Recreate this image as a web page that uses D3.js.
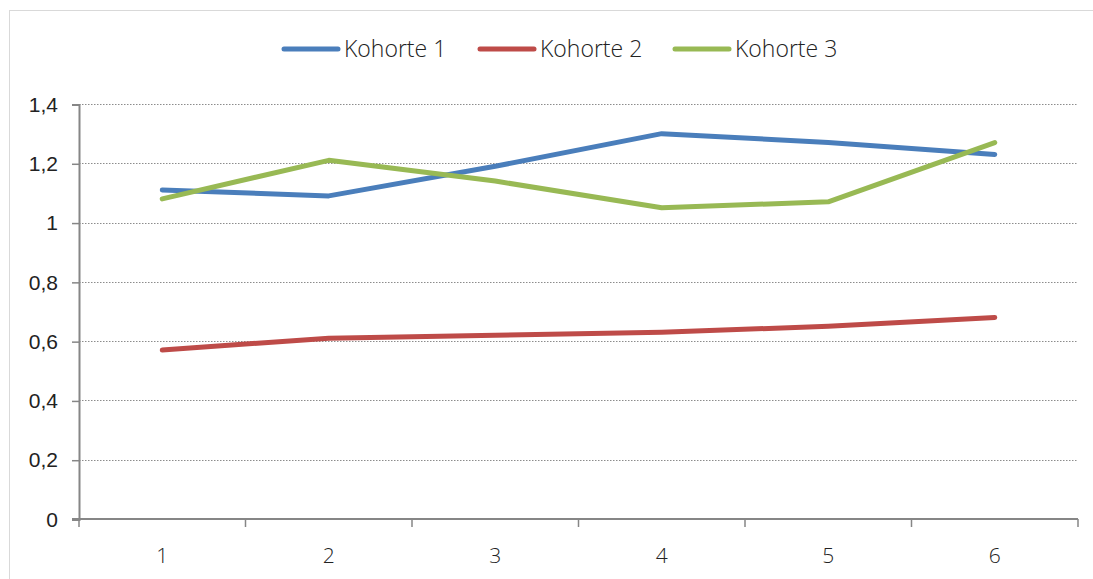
<!DOCTYPE html>
<html>
<head>
<meta charset="utf-8">
<script src="https://cdn.jsdelivr.net/npm/d3@7"></script>
<style>
  html, body { margin: 0; padding: 0; background: #fff; }
  svg { display: block; font-family: "Open Sans", "Noto Sans", sans-serif; }
</style>
</head>
<body>
<svg id="chart" width="1093" height="579"></svg>
<script>
// Kohorten-Verlauf über sechs Messzeitpunkte
const categories = ["1", "2", "3", "4", "5", "6"];
const seriesNames = ["Kohorte 1", "Kohorte 2", "Kohorte 3"];
const kohorte1 = [1.11, 1.09, 1.19, 1.30, 1.27, 1.23];
const kohorte2 = [0.57, 0.61, 0.62, 0.63, 0.65, 0.68];
const kohorte3 = [1.08, 1.21, 1.14, 1.05, 1.07, 1.27];
const yTicks = [0, 0.2, 0.4, 0.6, 0.8, 1, 1.2, 1.4];
const colors = ["#4a7ebb", "#be4b48", "#98b954"];

const series = [kohorte1, kohorte2, kohorte3].map((values, i) => ({
  name: seriesNames[i], values, color: colors[i]
}));

const svg = d3.select("#chart");
const margin = { left: 79, right: 15, top: 104, bottom: 60 };
const W = 1093, H = 579;

// Outer frame
svg.append("rect")
  .attr("x", 9.5).attr("y", 10.5)
  .attr("width", W + 10).attr("height", H + 10)
  .attr("fill", "none").attr("stroke", "#d9d9d9").attr("stroke-width", 1);

const x = d3.scaleBand().domain(categories).range([margin.left, 1078]).padding(0);
const y = d3.scaleLinear().domain([0, 1.4]).range([519, margin.top]);

const fmt = v => d3.format(",")(v).replace(".", ",");

// Gridlines
svg.append("g")
  .selectAll("line")
  .data(yTicks.filter(t => t > 0))
  .join("line")
  .attr("x1", margin.left).attr("x2", 1078)
  .attr("y1", d => Math.round(y(d)) + 0.5).attr("y2", d => Math.round(y(d)) + 0.5)
  .attr("stroke", "#8c8c8c").attr("stroke-width", 1)
  .attr("stroke-dasharray", "1.5,1.5");

// Y axis
const yAxis = svg.append("g")
  .attr("transform", `translate(${margin.left},0.5)`)
  .call(d3.axisLeft(y).tickValues(yTicks).tickFormat(d => d === 0 ? "0" : fmt(+d.toFixed(1))).tickSize(7).tickPadding(14));
yAxis.select(".domain").attr("stroke", "#868686").attr("stroke-width", 2);
yAxis.selectAll(".tick line").attr("stroke", "#868686").attr("stroke-width", 1.5);
yAxis.selectAll(".tick text").attr("fill", "#222").attr("font-size", 21).attr("font-weight", 300);

// X axis with boundary ticks between categories
const xAxisG = svg.append("g").attr("transform", `translate(0,${y(0)})`);
xAxisG.append("line")
  .attr("x1", margin.left - 7).attr("x2", 1078)
  .attr("stroke", "#868686").attr("stroke-width", 2);
const bounds = categories.map(c => x(c)).concat([x(categories[categories.length - 1]) + x.bandwidth()]);
xAxisG.selectAll("line.tk")
  .data(bounds)
  .join("line").attr("class", "tk")
  .attr("x1", d => d).attr("x2", d => d)
  .attr("y1", 0).attr("y2", 8)
  .attr("stroke", "#868686").attr("stroke-width", 1.5);
xAxisG.selectAll("text")
  .data(categories)
  .join("text")
  .attr("x", d => x(d) + x.bandwidth() / 2)
  .attr("y", 44)
  .attr("text-anchor", "middle")
  .attr("fill", "#222").attr("font-size", 21).attr("font-weight", 300)
  .text(d => d);

// Lines
const line = d3.line()
  .x((d, i) => x(categories[i]) + x.bandwidth() / 2)
  .y(d => y(d));

svg.append("g")
  .selectAll("path")
  .data(series)
  .join("path")
  .attr("d", d => line(d.values))
  .attr("fill", "none")
  .attr("stroke", d => d.color)
  .attr("stroke-width", 5)
  .attr("stroke-linecap", "round")
  .attr("stroke-linejoin", "round");

// Legend
const legendX = [284, 480, 675];
const legend = svg.append("g")
  .selectAll("g")
  .data(series)
  .join("g")
  .attr("transform", (d, i) => `translate(${legendX[i]},49)`);
legend.append("line")
  .attr("x1", 0).attr("x2", 54)
  .attr("stroke", d => d.color).attr("stroke-width", 5)
  .attr("stroke-linecap", "round");
legend.append("text")
  .attr("x", 60).attr("y", 8)
  .attr("fill", "#222").attr("font-size", 23).attr("font-weight", 300)
  .text(d => d.name);
</script>
</body>
</html>
